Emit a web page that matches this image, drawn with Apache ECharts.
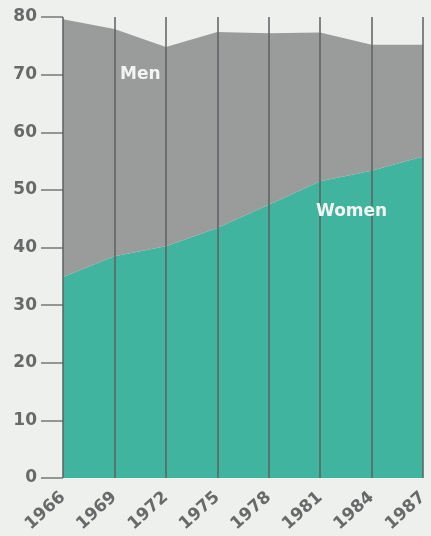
<!DOCTYPE html>
<html>
<head>
<meta charset="utf-8">
<script src="https://cdn.jsdelivr.net/npm/echarts@6/dist/echarts.min.js"></script>
<style>
html,body{margin:0;padding:0;background:#eef0ee;}
#chart{width:431px;height:536px;}
</style>
</head>
<body>
<div id="chart"></div>
<script>
const years = ['1966','1969','1972','1975','1978','1981','1984','1987'];
const women = [34.9, 38.5, 40.2, 43.4, 47.4, 51.5, 53.3, 55.8];
const men = [44.7, 39.4, 34.6, 34.0, 29.8, 25.8, 21.9, 19.4];
const yTicks = [0, 10, 20, 30, 40, 50, 60, 70, 80];

const chart = echarts.init(document.getElementById('chart'));
chart.setOption({
  backgroundColor: '#eef0ee',
  animation: false,
  grid: { left: 63, right: 1, top: 17, bottom: 58 },
  xAxis: {
    type: 'category',
    data: years,
    boundaryGap: false,
    z: 5,
    axisLine: { show: false },
    axisTick: { show: false },
    splitLine: { show: true, interval: 0, lineStyle: { color: '#5c6162', width: 1.5 } },
    axisLabel: {
      interval: 0, rotate: 42, margin: 17,
      fontFamily: 'DejaVu Sans', fontWeight: 'bold', fontSize: 17, color: '#686a6a'
    }
  },
  yAxis: {
    type: 'value',
    min: yTicks[0], max: yTicks[yTicks.length - 1], interval: 10,
    axisLine: { show: false },
    axisTick: { show: true, length: 22, lineStyle: { color: '#777', width: 1.5 } },
    splitLine: { show: false },
    axisLabel: {
      margin: 26,
      fontFamily: 'DejaVu Sans', fontWeight: 'bold', fontSize: 17, color: '#686a6a'
    }
  },
  series: [
    {
      name: 'Women', type: 'line', stack: 'total', data: women,
      symbol: 'none', lineStyle: { width: 0 },
      areaStyle: { color: '#41b4a0', opacity: 1 }
    },
    {
      name: 'Men', type: 'line', stack: 'total', data: men,
      symbol: 'none', lineStyle: { width: 0 },
      areaStyle: { color: '#9a9c9c', opacity: 1 }
    }
  ],
  graphic: [
    { type: 'text', left: 120, top: 66, z: 10,
      style: { text: 'Men', fill: '#f2f4f2', font: 'bold 17px "DejaVu Sans"' } },
    { type: 'text', left: 316, top: 203, z: 10,
      style: { text: 'Women', fill: '#f2f4f2', font: 'bold 17px "DejaVu Sans"' } }
  ]
});
</script>
</body>
</html>
